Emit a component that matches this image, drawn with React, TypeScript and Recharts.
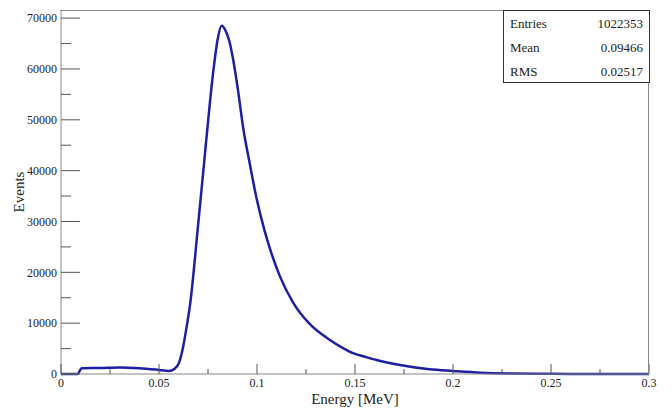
import React from 'react';
import { LineChart, Line, XAxis, YAxis } from 'recharts';

// energy spectrum (MeV vs counts)
const energy = [
  0, 0.0085, 0.0105, 0.02, 0.03, 0.04, 0.05, 0.055, 0.058, 0.06, 0.0624, 0.0641, 0.0658,
  0.07, 0.073, 0.076, 0.078, 0.08, 0.082, 0.084, 0.0858, 0.0879, 0.0905, 0.093, 0.0964,
  0.0998, 0.104, 0.1075, 0.1117, 0.1185, 0.127, 0.1372, 0.143, 0.149, 0.155, 0.161, 0.173, 0.188,
  0.2, 0.214, 0.23, 0.25, 0.27, 0.3,
];
const events = [
  0, 0, 1150, 1200, 1300, 1150, 800, 600, 1050, 2000, 5500, 9300, 13500,
  29500, 41500, 53500, 60500, 66000, 68500, 67500, 65600, 61700, 55300, 48300, 41200,
  34500, 28000, 23600, 19200, 14000, 9800, 6700, 5300, 4100, 3400, 2750, 1770, 920,
  590, 260, 100, 40, 15, 0,
];

const xTicks = [0, 0.025, 0.05, 0.075, 0.1, 0.125, 0.15, 0.175, 0.2, 0.225, 0.25, 0.275, 0.3];
const yTicks = [0, 5000, 10000, 15000, 20000, 25000, 30000, 35000, 40000, 45000, 50000, 55000, 60000, 65000, 70000];

const stats = [
  { name: 'Entries', value: '1022353' },
  { name: 'Mean', value: '0.09466' },
  { name: 'RMS', value: '0.02517' },
];

const data = energy.map((e, i) => ({ e, n: events[i] }));

const font = '"Liberation Serif", "Times New Roman", serif';

const YTick = (props: any) => {
  const { x, y, payload } = props;
  const major = payload.value % 10000 === 0;
  return (
    <g>
      <line x1={x} x2={x + (major ? 19 : 10)} y1={y} y2={y} stroke="#555" />
      {major && (
        <text x={x - 4} y={y} dy="0.35em" textAnchor="end" style={{ fontFamily: font, fontSize: 12, fill: '#222' }}>
          {payload.value}
        </text>
      )}
    </g>
  );
};

const XTick = (props: any) => {
  const { x, y, payload } = props;
  const major = Math.round(payload.value * 1000) % 50 === 0;
  return (
    <g>
      <line x1={x} x2={x} y1={y} y2={y - (major ? 10 : 5)} stroke="#555" />
      {major && (
        <text x={x} y={y + 13} textAnchor="middle" style={{ fontFamily: font, fontSize: 12, fill: '#222' }}>
          {String(payload.value)}
        </text>
      )}
    </g>
  );
};

export default function App() {
  return (
    <div style={{ position: 'absolute', left: 0, top: 0, width: 672, height: 408, background: '#fff', fontFamily: font }}>
      <LineChart width={672} height={408} data={data} margin={{ top: 10, right: 23, bottom: 0, left: 0 }}>
        <XAxis
          dataKey="e"
          type="number"
          domain={[0, 0.3]}
          ticks={xTicks}
          interval={0}
          tickSize={0}
          tickMargin={0}
          tick={<XTick />}
          height={34}
          stroke="#888"
          label={{ value: 'Energy [MeV]', position: 'insideBottom', offset: 4, style: { fontFamily: font, fontSize: 15, fill: '#222' } }}
        />
        <YAxis
          type="number"
          domain={[0, 71600]}
          ticks={yTicks}
          interval={0}
          tickSize={0}
          tickMargin={0}
          tick={<YTick />}
          width={61}
          stroke="#888"
          label={{ value: 'Events', angle: -90, position: 'center', dx: -12, style: { fontFamily: font, fontSize: 15, fill: '#222' } }}
        />
        <Line type="monotone" dataKey="n" stroke="#1e1ea0" strokeWidth={2.5} dot={false} isAnimationActive={false} />
      </LineChart>
      {/* frame top/right */}
      <div
        style={{
          position: 'absolute', left: 61, top: 10, width: 588, height: 364, boxSizing: 'border-box',
          borderTop: '1px solid #888', borderRight: '1px solid #888', pointerEvents: 'none',
        }}
      />
      {/* stats box */}
      <div
        style={{
          position: 'absolute', left: 503, top: 10, width: 147, height: 73, boxSizing: 'border-box',
          border: '1px solid #333', background: '#fff', paddingTop: 1, fontSize: 13, color: '#222',
        }}
      >
        {stats.map((s) => (
          <div key={s.name} style={{ display: 'flex', justifyContent: 'space-between', height: 24, lineHeight: '24px', padding: '0 6px' }}>
            <span>{s.name}</span>
            <span>{s.value}</span>
          </div>
        ))}
      </div>
    </div>
  );
}
